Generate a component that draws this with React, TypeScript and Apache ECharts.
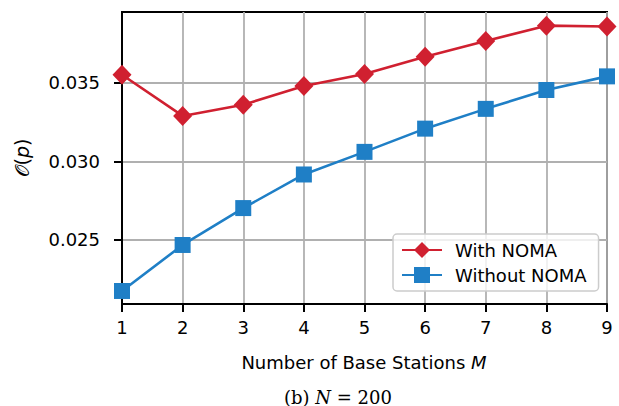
import React, { useEffect, useRef } from "react";
import * as echarts from "echarts";

const stations = [1, 2, 3, 4, 5, 6, 7, 8, 9];
const withNoma = [0.03552, 0.0329, 0.03361, 0.0348, 0.03557, 0.03667, 0.03768, 0.03865, 0.0386];
const withoutNoma = [0.02175, 0.02468, 0.02703, 0.02917, 0.03061, 0.03209, 0.03335, 0.03455, 0.03542];
const yTicks = [0.025, 0.03, 0.035];
const seriesNames = ["With NOMA", "Without NOMA"];

const RED = "#d02030";
const BLUE = "#1f7fc6";
const FONT = "DejaVu Sans";

export default function App() {
  const ref = useRef<HTMLDivElement>(null);
  useEffect(() => {
    if (!ref.current) return;
    const chart = echarts.init(ref.current, null, { renderer: "svg" });
    chart.setOption({
      animation: false,
      backgroundColor: "#ffffff",
      grid: {
        left: 122,
        top: 12,
        right: 12,
        bottom: 102,
        show: true,
        borderColor: "#000",
        borderWidth: 2,
        backgroundColor: "transparent",
      },
      xAxis: {
        type: "value",
        min: 1,
        max: 9,
        interval: 1,
        axisLine: { show: true, lineStyle: { color: "#000", width: 2 } },
        axisTick: { show: true, inside: false, length: 8, lineStyle: { color: "#000", width: 2 } },
        axisLabel: { fontFamily: FONT, fontSize: 18, color: "#000", margin: 14 },
        splitLine: { show: true, lineStyle: { color: "#b0b0b0", width: 1.8 } },
      },
      yAxis: {
        type: "value",
        min: 0.02092,
        max: 0.03952,
        splitNumber: 4,
        axisLine: { show: true, lineStyle: { color: "#000", width: 2 } },
        axisTick: {
          show: true,
          length: 8,
          customValues: yTicks,
          lineStyle: { color: "#000", width: 2 },
        },
        axisLabel: {
          fontFamily: FONT,
          fontSize: 18,
          color: "#000",
          margin: 22,
          customValues: yTicks,
          formatter: (v: number) => v.toFixed(3),
        },
        splitLine: { show: true, lineStyle: { color: "#b0b0b0", width: 1.8 } },
      },
      legend: {
        orient: "vertical",
        left: 393,
        top: 234,
        padding: [7, 12, 7, 8],
        itemWidth: 40,
        itemHeight: 20,
        itemGap: 7,
        backgroundColor: "rgba(255,255,255,0.8)",
        borderColor: "#cccccc",
        borderWidth: 1.5,
        borderRadius: 4,
        textStyle: { fontFamily: FONT, fontSize: 18, color: "#000", padding: [0, 0, 0, 8] },
        data: seriesNames,
      },
      series: [
        {
          name: seriesNames[0],
          type: "line",
          data: stations.map((s, i) => [s, withNoma[i]]),
          symbol: "diamond",
          symbolSize: [19, 20],
          lineStyle: { color: RED, width: 2.6 },
          itemStyle: { color: RED },
          clip: false,
          z: 3,
        },
        {
          name: seriesNames[1],
          type: "line",
          data: stations.map((s, i) => [s, withoutNoma[i]]),
          symbol: "rect",
          symbolSize: 16,
          lineStyle: { color: BLUE, width: 2.6 },
          itemStyle: { color: BLUE },
          clip: true,
          z: 2,
        },
      ],
      graphic: [
        {
          type: "text",
          x: 22,
          y: 158,
          rotation: Math.PI / 2,
          style: {
            text: "𝒪({i|p})",
            fontFamily: FONT,
            fontSize: 19,
            fill: "#000",
            align: "center",
            verticalAlign: "middle",
            rich: { i: { fontStyle: "italic", fontFamily: FONT, fontSize: 19 } },
          },
        },
        {
          type: "text",
          x: 364,
          y: 362,
          style: {
            text: "Number of Base Stations {i|M}",
            fontFamily: FONT,
            fontSize: 18,
            fill: "#000",
            align: "center",
            verticalAlign: "middle",
            rich: { i: { fontStyle: "italic", fontFamily: FONT, fontSize: 18 } },
          },
        },
        {
          type: "text",
          x: 338,
          y: 397,
          style: {
            text: "(b) {i|N} = 200",
            fontFamily: "DejaVu Serif",
            fontSize: 18,
            fill: "#000",
            align: "center",
            verticalAlign: "middle",
            rich: { i: { fontStyle: "italic", fontFamily: "DejaVu Serif", fontSize: 18 } },
          },
        },
      ],
    });
    return () => chart.dispose();
  }, []);
  return (
    <div
      ref={ref}
      style={{ position: "fixed", left: 0, top: 0, width: 619, height: 406 }}
    />
  );
}
